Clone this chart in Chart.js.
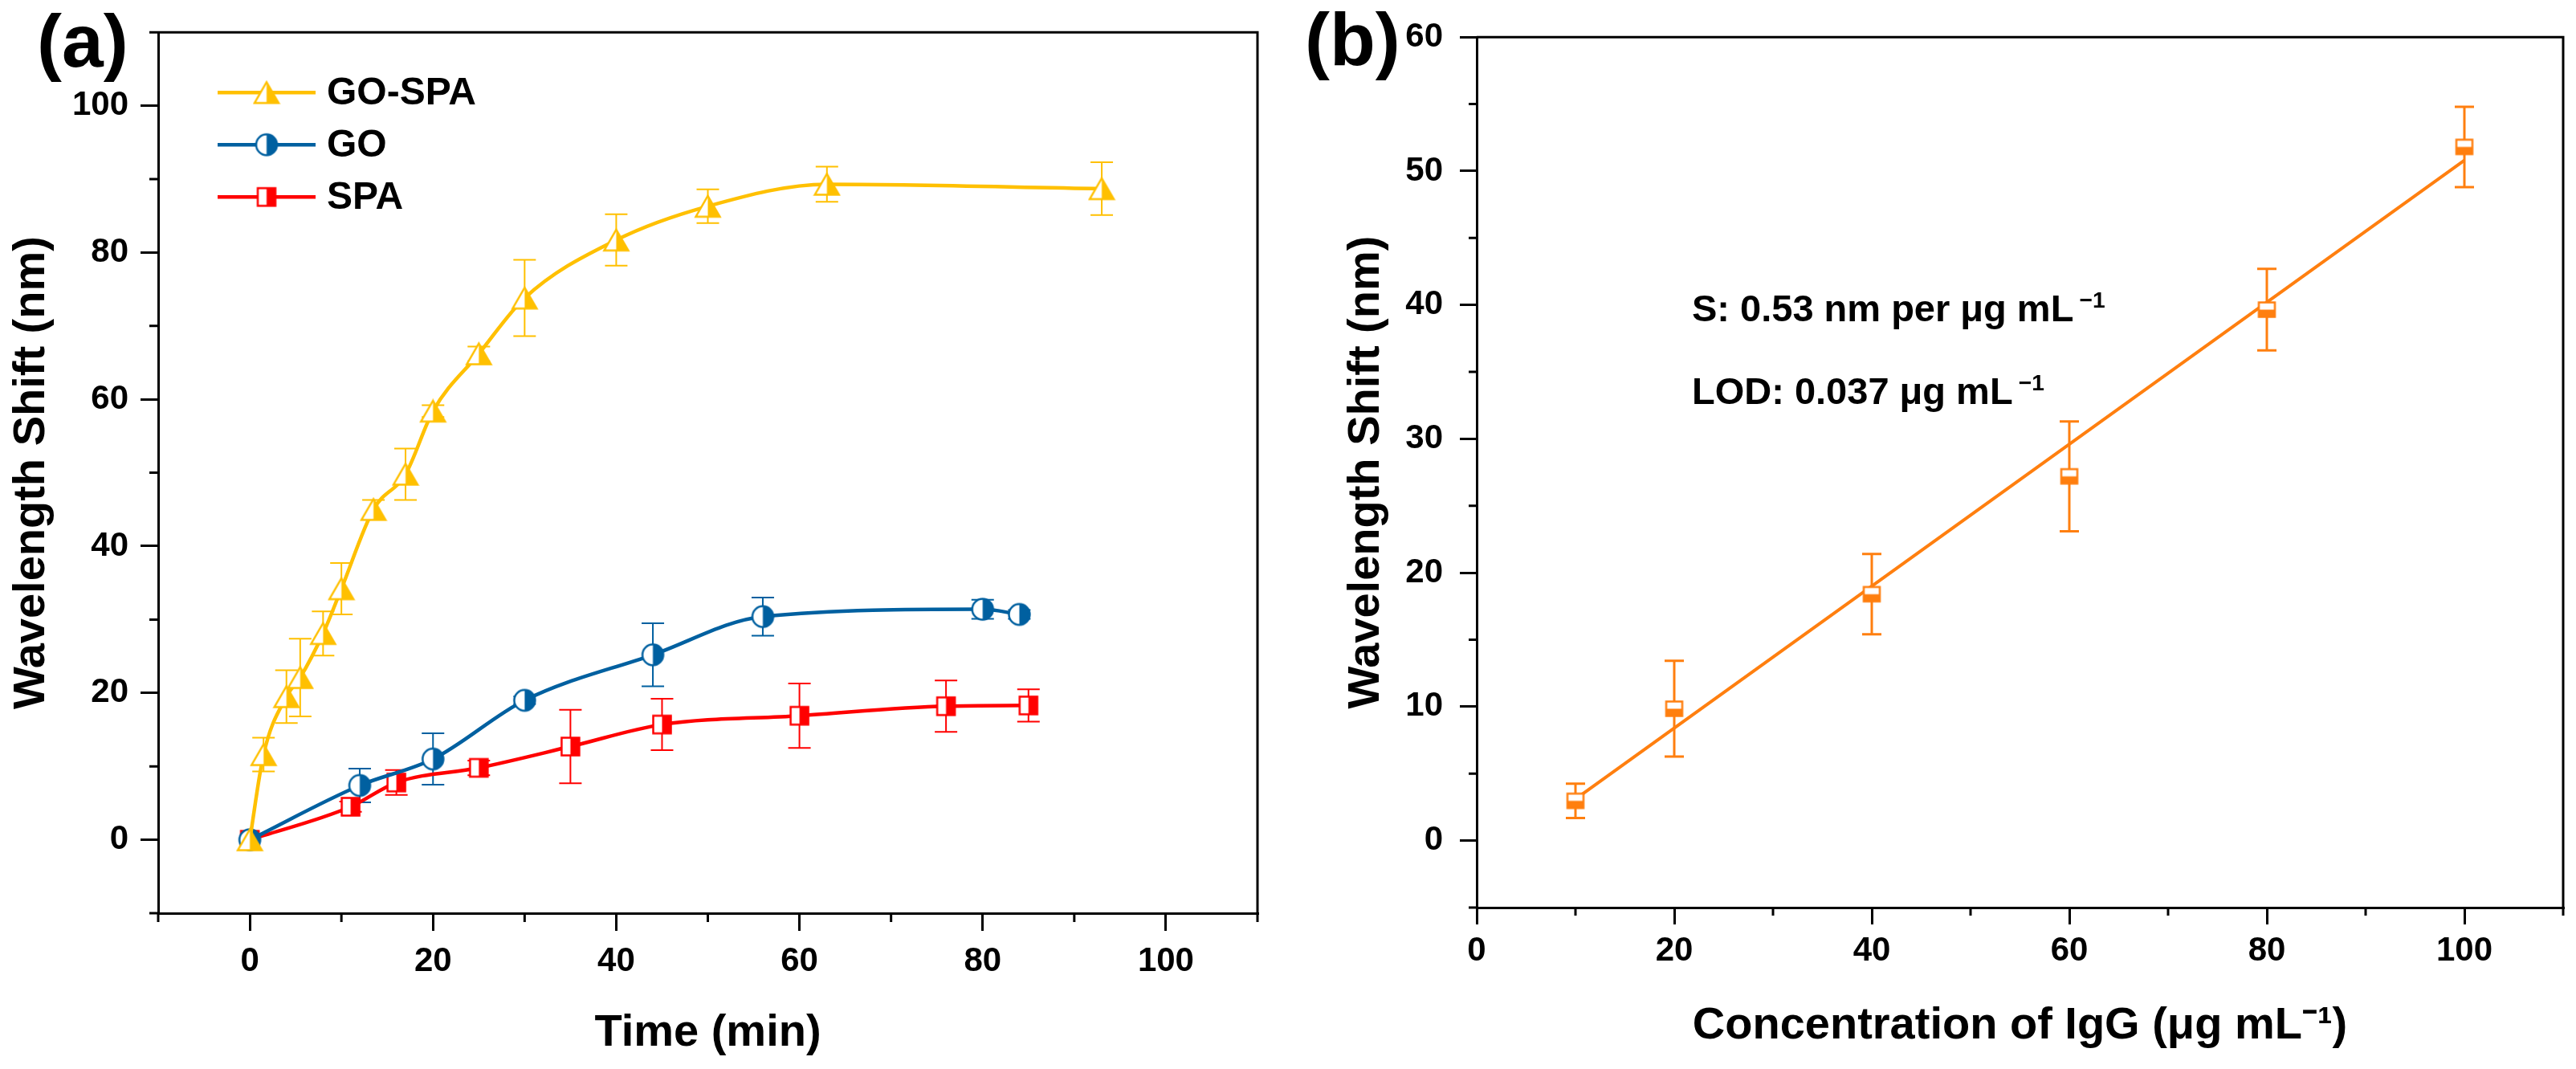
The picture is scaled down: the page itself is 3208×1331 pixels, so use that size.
<!DOCTYPE html>
<html>
<head>
<meta charset="utf-8">
<script src="https://cdn.jsdelivr.net/npm/chart.js@4.4.1/dist/chart.umd.min.js"></script>
<style>
  body { margin: 0; background: #fff; }
  #page { position: relative; width: 3208px; height: 1331px; overflow: hidden;
          font-family: 'Liberation Sans', Arial, sans-serif; font-weight: bold; color: #000; }
  .panel { position: absolute; top: 0; width: 1604px; height: 1331px; }
  .tag { position: absolute; font-size: 93px; line-height: 93px; }
  .note { position: absolute; font-size: 47px; line-height: 47px; white-space: nowrap; }
  .note sup { font-size: 0.6em; line-height: 0; vertical-align: 0.6em; margin-left: 0.25em; }
</style>
</head>
<body>
<div id="page">
  <div class="panel" style="left:0"><canvas id="chartA" width="1604" height="1331"></canvas></div>
  <div class="panel" style="left:1604px"><canvas id="chartB" width="1604" height="1331"></canvas></div>
  <div class="tag" style="left:46px; top:5px">(a)</div>
  <div class="tag" style="left:1625px; top:3px">(b)</div>
  <div class="note" style="left:2107px; top:360px">S: 0.53 nm per μg mL<sup>−1</sup></div>
  <div class="note" style="left:2107px; top:463px">LOD: 0.037 μg mL<sup>−1</sup></div>
</div>
<script>
// panel (a): wavelength shift vs time
const goSpaTime  = [0, 1.5, 4, 5.5, 8, 10, 13.5, 17, 20, 25, 30, 40, 50, 63, 93];
const goSpaShift = [0, 11.6, 19.5, 22.1, 28.1, 34.2, 45.0, 49.8, 58.4, 66.2, 73.8, 81.7, 86.3, 89.3, 88.7];
const goSpaErr   = [0, 2.3, 3.6, 5.3, 3.0, 3.5, 1.3, 3.5, 0.8, 1.0, 5.2, 3.5, 2.3, 2.4, 3.6];

const goTime  = [0, 12, 20, 30, 44, 56, 80, 84];
const goShift = [0, 7.4, 11.0, 19.0, 25.2, 30.4, 31.4, 30.7];
const goErr   = [0, 2.3, 3.5, 0.5, 4.3, 2.6, 1.3, 0.6];

const spaTime  = [0, 11, 16, 25, 35, 45, 60, 76, 85];
const spaShift = [0, 4.5, 7.8, 9.8, 12.7, 15.7, 16.9, 18.2, 18.3];
const spaErr   = [0, 0.7, 1.7, 1.0, 5.0, 3.5, 4.4, 3.5, 2.2];

const timeTicks      = [0, 20, 40, 60, 80, 100];
const timeMinorTicks = [-10, 10, 30, 50, 70, 90, 110];
const shiftTicksA      = [0, 20, 40, 60, 80, 100];
const shiftMinorTicksA = [-10, 10, 30, 50, 70, 90, 110];

// panel (b): calibration
const iggConc  = [10, 20, 40, 60, 80, 100];
const iggShift = [2.97, 9.85, 18.4, 27.2, 39.65, 51.8];
const iggErr   = [1.28, 3.57, 3.0, 4.1, 3.05, 3.0];
const fitConc  = [10, 100];
const fitShift = [3.1, 50.8];

const concTicks      = [0, 20, 40, 60, 80, 100];
const concMinorTicks = [10, 30, 50, 70, 90, 110];
const shiftTicksB      = [0, 10, 20, 30, 40, 50, 60];
const shiftMinorTicksB = [-5, 5, 15, 25, 35, 45, 55];

const colGoSpa = '#FFC000';
const colGo = '#0060A0';
const colSpa = '#FF0000';
const colIgg = '#FF7F0F';

Chart.defaults.font.family = "'Liberation Sans', Arial, sans-serif";
Chart.defaults.font.weight = 'bold';
Chart.defaults.color = '#000';

function marker(shape, color, w, h, fillSide) {
    const lw = 2.5;
    const c = document.createElement('canvas');
    c.width = Math.ceil(w + lw * 2);
    c.height = Math.ceil(h + lw * 2);
    const ctx = c.getContext('2d');
    const x0 = lw, y0 = lw;
    ctx.beginPath();
    if (shape === 'triangle') {
        ctx.moveTo(x0 + w / 2, y0);
        ctx.lineTo(x0 + w, y0 + h);
        ctx.lineTo(x0, y0 + h);
        ctx.closePath();
    } else if (shape === 'circle') {
        ctx.ellipse(x0 + w / 2, y0 + h / 2, w / 2, h / 2, 0, 0, Math.PI * 2);
    } else {
        ctx.rect(x0, y0, w, h);
    }
    ctx.save();
    ctx.clip();
    ctx.fillStyle = '#fff';
    ctx.fillRect(0, 0, c.width, c.height);
    ctx.fillStyle = color;
    if (fillSide === 'right') ctx.fillRect(x0 + w / 2, 0, c.width, c.height);
    else ctx.fillRect(0, y0 + h / 2, c.width, c.height);
    ctx.restore();
    ctx.strokeStyle = color;
    ctx.lineWidth = lw;
    ctx.stroke();
    return c;
}

function points(xs, ys) {
    return xs.map((x, i) => ({ x, y: ys[i] }));
}

function tickList(list) {
    return scale => { scale.ticks = list.map(v => ({ value: v })); };
}

const errorBars = {
    id: 'errorBars',
    beforeDatasetsDraw(chart, args, opts) {
        const ctx = chart.ctx;
        const xs = chart.scales.x, ys = chart.scales.y;
        chart.data.datasets.forEach(ds => {
            if (!ds.errors) return;
            ctx.save();
            ctx.strokeStyle = ds.borderColor;
            ctx.lineWidth = opts.width;
            ds.data.forEach((p, j) => {
                const e = ds.errors[j];
                if (!e) return;
                const px = xs.getPixelForValue(p.x);
                const top = ys.getPixelForValue(p.y + e);
                const bot = ys.getPixelForValue(p.y - e);
                ctx.beginPath();
                ctx.moveTo(px, top); ctx.lineTo(px, bot);
                ctx.moveTo(px - opts.cap, top); ctx.lineTo(px + opts.cap, top);
                ctx.moveTo(px - opts.cap, bot); ctx.lineTo(px + opts.cap, bot);
                ctx.stroke();
            });
            ctx.restore();
        });
    }
};

const frame = {
    id: 'frame',
    afterDraw(chart, args, opts) {
        const { ctx, chartArea: a } = chart;
        const xs = chart.scales.x, ys = chart.scales.y;
        ctx.save();
        ctx.strokeStyle = '#000';
        ctx.lineWidth = 3;
        ctx.beginPath();
        ctx.moveTo(a.left, a.top);
        ctx.lineTo(a.right, a.top);
        ctx.lineTo(a.right, a.bottom);
        ctx.stroke();
        ctx.beginPath();
        opts.xMinor.forEach(v => {
            const p = xs.getPixelForValue(v);
            ctx.moveTo(p, a.bottom); ctx.lineTo(p, a.bottom + opts.minorLen);
        });
        opts.yMinor.forEach(v => {
            const p = ys.getPixelForValue(v);
            ctx.moveTo(a.left, p); ctx.lineTo(a.left - opts.minorLen, p);
        });
        ctx.stroke();
        ctx.restore();
    }
};

const insideLegend = {
    id: 'insideLegend',
    afterDraw(chart, args, opts) {
        if (!opts.display) return;
        const { ctx, chartArea: a } = chart;
        ctx.save();
        chart.data.datasets.forEach((ds, i) => {
            const y = a.top + opts.top + i * opts.rowGap;
            const x0 = a.left + opts.left;
            ctx.strokeStyle = ds.borderColor;
            ctx.lineWidth = ds.borderWidth;
            ctx.beginPath();
            ctx.moveTo(x0, y);
            ctx.lineTo(x0 + opts.lineLen, y);
            ctx.stroke();
            const img = ds.pointStyle;
            ctx.drawImage(img, x0 + opts.lineLen / 2 - img.width / 2, y - img.height / 2);
            ctx.fillStyle = '#000';
            ctx.font = opts.font;
            ctx.textBaseline = 'middle';
            ctx.fillText(ds.label, x0 + opts.lineLen + opts.textGap, y + 2);
        });
        ctx.restore();
    }
};

function axis(min, max, ticks, fit, title, tickLen, pad, titlePad) {
    return {
        type: 'linear',
        min, max,
        afterBuildTicks: tickList(ticks),
        afterFit: fit,
        grid: { display: true, drawOnChartArea: false, drawTicks: true, tickLength: tickLen,
                tickWidth: 3, tickColor: '#000', lineWidth: 3 },
        border: { display: true, color: '#000', width: 3 },
        ticks: { color: '#000', font: { size: 42, weight: 'bold' }, padding: pad, maxRotation: 0 },
        title: { display: true, text: title, color: '#000',
                 font: { size: 56, weight: 'bold' }, padding: titlePad }
    };
}

function lineSet(label, xs, ys, errs, color, img) {
    return {
        label,
        data: points(xs, ys),
        errors: errs,
        borderColor: color,
        backgroundColor: color,
        borderWidth: 4.5,
        cubicInterpolationMode: 'monotone',
        pointStyle: img,
        pointRadius: 12,
        pointHoverRadius: 12
    };
}

new Chart(document.getElementById('chartA'), {
    type: 'line',
    data: {
        datasets: [
            lineSet('GO-SPA', goSpaTime, goSpaShift, goSpaErr, colGoSpa, marker('triangle', colGoSpa, 30, 26, 'right')),
            lineSet('GO', goTime, goShift, goErr, colGo, marker('circle', colGo, 26, 26, 'right')),
            lineSet('SPA', spaTime, spaShift, spaErr, colSpa, marker('square', colSpa, 22, 22, 'right'))
        ]
    },
    options: {
        responsive: false,
        animation: false,
        devicePixelRatio: 1,
        layout: { padding: { left: 0, top: 39, right: 38, bottom: 0 } },
        scales: {
            x: axis(-10, 110, timeTicks, s => { s.height = 194; }, 'Time (min)', 22, 13, { top: 0, bottom: 11 }),
            y: axis(-10, 110, shiftTicksA, s => { s.width = 197; }, 'Wavelength Shift (nm)', 22, 15, { top: 6, bottom: 0 })
        },
        plugins: {
            legend: { display: false },
            tooltip: { enabled: false },
            errorBars: { width: 2, cap: 14 },
            frame: { xMinor: timeMinorTicks, yMinor: shiftMinorTicksA, minorLen: 11 },
            insideLegend: { display: true, left: 74, top: 75, rowGap: 65, lineLen: 122, textGap: 14,
                            font: "bold 48px 'Liberation Sans', Arial, sans-serif" }
        }
    },
    plugins: [errorBars, frame, insideLegend]
});

new Chart(document.getElementById('chartB'), {
    type: 'scatter',
    data: {
        datasets: [
            {
                label: 'IgG',
                data: points(iggConc, iggShift),
                errors: iggErr,
                borderColor: colIgg,
                backgroundColor: colIgg,
                showLine: false,
                pointStyle: marker('square', colIgg, 20, 18, 'bottom'),
                pointRadius: 10,
                pointHoverRadius: 10
            },
            {
                label: 'Linear fit',
                data: points(fitConc, fitShift),
                borderColor: colIgg,
                borderWidth: 4,
                showLine: true,
                pointRadius: 0,
                pointHoverRadius: 0
            }
        ]
    },
    options: {
        responsive: false,
        animation: false,
        devicePixelRatio: 1,
        layout: { padding: { left: 0, top: 39, right: 16, bottom: 0 } },
        scales: {
            x: axis(0, 110, concTicks, s => { s.height = 201; }, 'Concentration of IgG (μg mL\u207B\u00B9)', 21, 8, { top: 0, bottom: 20 }),
            y: axis(-5, 60, shiftTicksB, s => { s.width = 235; }, 'Wavelength Shift (nm)', 21, 21, { top: 64, bottom: 0 })
        },
        plugins: {
            legend: { display: false },
            tooltip: { enabled: false },
            errorBars: { width: 3, cap: 12 },
            frame: { xMinor: concMinorTicks, yMinor: shiftMinorTicksB, minorLen: 10 },
            insideLegend: { display: false }
        }
    },
    plugins: [errorBars, frame, insideLegend]
});
</script>
</body>
</html>
